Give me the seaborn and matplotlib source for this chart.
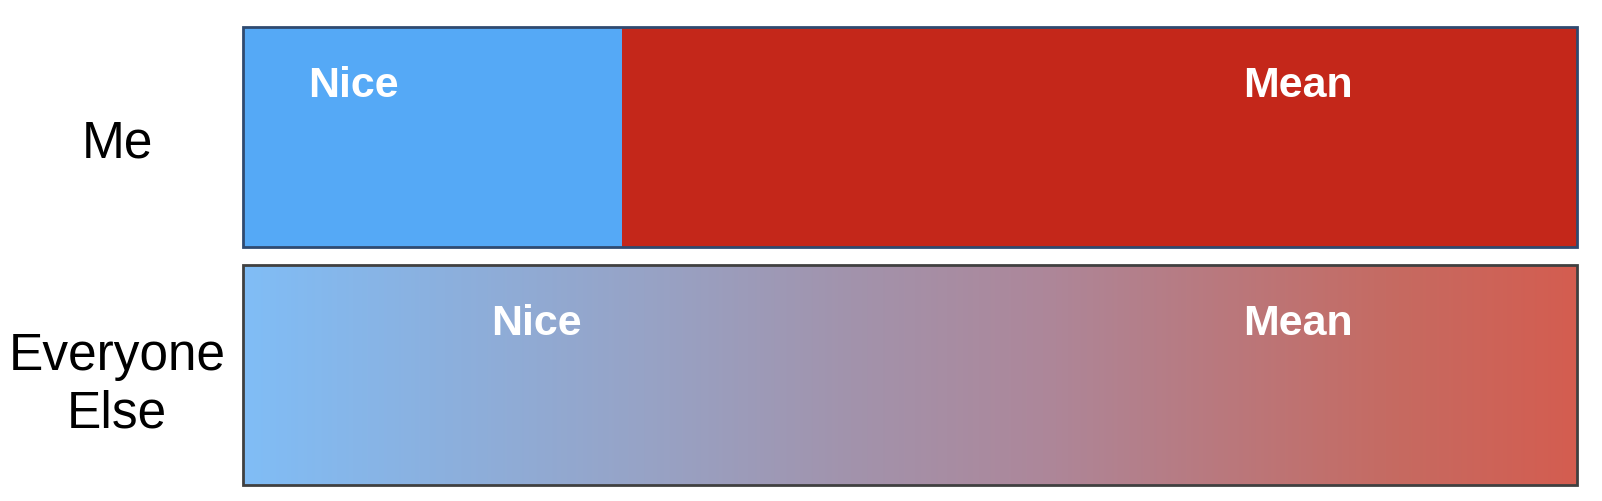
import numpy as np
import pandas as pd
import matplotlib
matplotlib.use("Agg")
import matplotlib.pyplot as plt
import seaborn as sns
from matplotlib.colors import LinearSegmentedColormap
from matplotlib.patches import Rectangle

# data (share of the bar, in %)
groups = ["Me", "Everyone Else"]
nice = [28.4, 50.0]
mean = [71.6, 50.0]
segment_names = ["Nice", "Mean"]

# where the white labels sit along each bar (% of the bar)
label_x = {"Me": [8.3, 79.1], "Everyone Else": [22.0, 79.1]}

blue = "#55A9F6"
red = "#C4271A"
gradient_stops = ["#80BDF6", "#97A3C6", "#A293AC", "#AD879A", "#C66A61", "#D45D50"]
gradient_pos = [0.0, 0.3, 0.455, 0.6, 0.867, 1.0]

df = pd.DataFrame({"group": groups, "nice": nice, "mean": mean})
df["total"] = df["nice"] + df["mean"]

sns.set_style("white")
fig = plt.figure(figsize=(16.02, 5.02), dpi=100)
ax = fig.add_axes([243 / 1602, 1 - 486 / 502, (1577 - 243) / 1602, (486 - 28) / 502])

bar_w = 0.925
sns.barplot(data=df, x="total", y="group", order=groups, hue="group",
            palette=[red, "#A890A0"], width=bar_w, linewidth=0, saturation=1,
            legend=False, ax=ax)
total_bars = list(ax.patches)
sns.barplot(data=df[df["group"] == "Me"], x="nice", y="group", order=groups,
            color=blue, width=bar_w, linewidth=0, saturation=1, ax=ax)

# gradient fill for "Everyone Else"
cmap = LinearSegmentedColormap.from_list("nicemean", list(zip(gradient_pos, gradient_stops)))
p = total_bars[1]
x0, y0 = p.get_x(), p.get_y()
w, h = p.get_width(), p.get_height()
grad = np.linspace(0, 1, 512).reshape(1, -1)
im = ax.imshow(grad, cmap=cmap, aspect="auto", extent=[x0, x0 + w, y0 + h, y0],
               zorder=p.get_zorder() + 0.5, interpolation="bicubic")
im.set_clip_path(p)

# outlines on top
for patch, ec in zip(total_bars, ["#2F4A70", "#404040"]):
    ax.add_patch(Rectangle((patch.get_x(), patch.get_y()), patch.get_width(), patch.get_height(),
                           fill=False, edgecolor=ec, linewidth=2, zorder=5, clip_on=False))

# white labels inside the bars
for i, g in enumerate(groups):
    top = i - bar_w / 2
    for name, xp in zip(segment_names, label_x[g]):
        ax.text(xp, top + 0.29, name, ha="center", va="baseline", color="white",
                fontsize=31, fontweight="bold", family="Liberation Sans", zorder=6)

ax.set_xlim(0, 100)
ax.set_ylim(1 + bar_w / 2, -bar_w / 2)
ax.set_xlabel("")
ax.set_ylabel("")
ax.set_xticks([])
ax.set_yticks(range(len(groups)))
ax.set_yticklabels(["Me", "Everyone\nElse"])
ax.tick_params(axis="y", length=0, pad=90.7)
for lab in ax.get_yticklabels():
    lab.set_ha("center")
    lab.set_multialignment("center")
    lab.set_fontsize(37)
    lab.set_family(["Liberation Sans", "DejaVu Sans"])
    lab.set_fontweight("normal")
    lab.set_color("black")
sns.despine(ax=ax, left=True, bottom=True)

fig.savefig("out.png", dpi=100, facecolor="white")
